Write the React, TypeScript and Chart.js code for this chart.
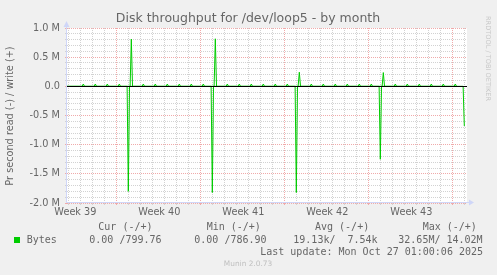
import React, { useEffect, useRef } from 'react';
import { Chart, registerables } from 'chart.js';

Chart.register(...registerables);

// ---- texts ----
const chartTitle = 'Disk throughput for /dev/loop5 - by month';
const yAxisTitle = 'Pr second read (-) / write (+)';
const sideWatermark = 'RRDTOOL / TOBI OETIKER';
const footerWatermark = 'Munin 2.0.73';

// ---- x axis (days from left edge of graph) ----
const xMaxDays = 33.333;
const weekLabels = ['Week 39', 'Week 40', 'Week 41', 'Week 42', 'Week 43'];
const weekLabelDays = [0.7, 7.7, 14.7, 21.7, 28.7];
const weekStartDays = [4.12, 11.12, 18.12, 25.12, 32.12];
const dayLineDays = [
  0.12, 1.12, 2.12, 3.12, 4.12, 5.12, 6.12, 7.12, 8.12, 9.12, 10.12, 11.12,
  12.12, 13.12, 14.12, 15.12, 16.12, 17.12, 18.12, 19.12, 20.12, 21.12, 22.12,
  23.12, 24.12, 25.12, 26.12, 27.12, 28.12, 29.12, 30.12, 31.12, 32.12, 33.12,
];

// ---- y axis (bytes per second) ----
const yMin = -2000000;
const yMax = 1000000;
const yMinorStep = 100000;
const yLabelValues = [1000000, 500000, 0, -500000, -1000000, -1500000, -2000000];
const yLabelTexts = ['1.0 M', '0.5 M', '0.0', '-0.5 M', '-1.0 M', '-1.5 M', '-2.0 M'];

// ---- series: write (+) ----
const writeDays = [
  1.36, 2.36, 3.36, 4.36, 5.36, 6.36, 7.36, 8.36, 9.36, 10.36, 11.36, 12.36,
  13.36, 14.36, 15.36, 16.36, 17.36, 18.36, 19.36, 20.36, 21.36, 22.36, 23.36,
  24.36, 25.36, 26.36, 27.36, 28.36, 29.36, 30.36, 31.36, 32.36,
];
const writeBytes = [
  40000, 40000, 40000, 40000, 810000, 40000, 40000, 40000, 40000, 40000, 40000,
  815000, 40000, 40000, 40000, 40000, 40000, 40000, 242000, 40000, 40000, 40000,
  40000, 40000, 40000, 236000, 40000, 40000, 40000, 40000, 40000, 40000,
];

// ---- series: read (-) ----
const readDays = [5.11, 12.11, 19.11, 26.11, 33.11];
const readBytes = [-1800000, -1820000, -1820000, -1250000, -680000];

// ---- legend ----
const legendHeaders = ['Cur (-/+)', 'Min (-/+)', 'Avg (-/+)', 'Max (-/+)'];
const legendSeriesName = 'Bytes';
const legendValues = ['0.00 /799.76', '0.00 /786.90', '19.13k/  7.54k', '32.65M/ 14.02M'];
const lastUpdate = 'Last update: Mon Oct 27 01:00:06 2025';

// ---- styles ----
const SERIES_COLOR = '#00CC00';
const GRID_COLOR = '#d2d2d2';
const MGRID_COLOR = '#f0aaaa';
const AXIS_COLOR = '#CFD6F8';
const FONT_COLOR = '#666666';
const SPIKE_HALF = 0.1;

const near = (a: number, b: number) => Math.abs(a - b) < 1e-6;

function buildSeries(days: number[], vals: number[], endOnLast: boolean) {
  const pts: { x: number; y: number }[] = [{ x: 0, y: 0 }];
  days.forEach((d, i) => {
    pts.push({ x: d - SPIKE_HALF, y: 0 }, { x: d, y: vals[i] }, { x: d + SPIKE_HALF, y: 0 });
  });
  if (endOnLast) pts.pop();
  return pts;
}

const decorPlugin = {
  id: 'decor',
  beforeDraw(chart: any) {
    const { ctx, chartArea: a } = chart;
    ctx.save();
    ctx.fillStyle = '#F0F0F0';
    ctx.fillRect(0, 0, chart.width, chart.height);
    ctx.fillStyle = '#FFFFFF';
    ctx.fillRect(a.left, a.top, a.right - a.left, a.bottom - a.top);
    ctx.restore();
  },
  afterDatasetsDraw(chart: any) {
    const { ctx, chartArea: a } = chart;
    const ys = chart.scales.y;
    ctx.save();
    // zero rule
    const y0 = Math.round(ys.getPixelForValue(0)) + 0.5;
    ctx.strokeStyle = '#000000';
    ctx.lineWidth = 1;
    ctx.beginPath();
    ctx.moveTo(a.left, y0);
    ctx.lineTo(a.right, y0);
    ctx.stroke();
    // axes
    const ax = Math.round(a.left) - 0.5;
    const ay = Math.round(a.bottom) - 0.5;
    ctx.strokeStyle = AXIS_COLOR;
    ctx.beginPath();
    ctx.moveTo(ax, ay);
    ctx.lineTo(ax, a.top - 5);
    ctx.moveTo(ax, ay);
    ctx.lineTo(a.right + 3, ay);
    ctx.stroke();
    ctx.fillStyle = AXIS_COLOR;
    ctx.beginPath();
    ctx.moveTo(ax - 3, a.top - 1);
    ctx.lineTo(ax + 3, a.top - 1);
    ctx.lineTo(ax, a.top - 7);
    ctx.closePath();
    ctx.fill();
    ctx.beginPath();
    ctx.moveTo(a.right + 2, ay - 3);
    ctx.lineTo(a.right + 2, ay + 3);
    ctx.lineTo(a.right + 7, ay);
    ctx.closePath();
    ctx.fill();
    ctx.restore();
  },
  afterDraw(chart: any) {
    const { ctx } = chart;
    ctx.save();
    ctx.fillStyle = FONT_COLOR;
    ctx.textBaseline = 'middle';
    // title
    ctx.font = '12.5px "DejaVu Sans"';
    ctx.textAlign = 'center';
    ctx.fillText(chartTitle, 248, 19);
    // y axis title
    ctx.save();
    ctx.translate(10, 116);
    ctx.rotate(-Math.PI / 2);
    ctx.font = '9.72px "DejaVu Sans"';
    ctx.fillText(yAxisTitle, 0, 0);
    ctx.restore();
    // side watermark
    ctx.save();
    ctx.translate(487.5, 58.5);
    ctx.rotate(Math.PI / 2);
    ctx.fillStyle = '#c8c8c8';
    ctx.font = '6.6px "DejaVu Sans"';
    ctx.fillText(sideWatermark, 0, 0);
    ctx.restore();
    // legend
    ctx.font = '10px "DejaVu Sans Mono"';
    ctx.textAlign = 'left';
    const headerX = [98.3, 206.7, 315, 422.7];
    legendHeaders.forEach((t, i) => ctx.fillText(t, headerX[i], 227.5));
    ctx.fillStyle = SERIES_COLOR;
    ctx.fillRect(14, 237, 6, 6);
    ctx.fillStyle = FONT_COLOR;
    ctx.fillText(legendSeriesName, 26.7, 240);
    const valueX = [89.3, 194.3, 293.3, 398.3];
    legendValues.forEach((t, i) => ctx.fillText(t, valueX[i], 240));
    ctx.textAlign = 'right';
    ctx.fillText(lastUpdate, 483, 252);
    // footer watermark
    ctx.textAlign = 'center';
    ctx.fillStyle = '#c0c0c0';
    ctx.font = '7.4px "DejaVu Sans"';
    ctx.fillText(footerWatermark, 248, 264);
    ctx.restore();
  },
};

export default function App() {
  const ref = useRef<HTMLCanvasElement>(null);
  useEffect(() => {
    document.body.style.margin = '0';
    document.body.style.background = '#F0F0F0';
    const canvas = ref.current as HTMLCanvasElement;
    const yGrid: number[] = [];
    for (let v = yMin; v <= yMax; v += yMinorStep) yGrid.push(v);
    const isMajorY = (v: number) => yLabelValues.some((m) => near(m, v));
    const isWeekStart = (v: number) => weekStartDays.some((m) => near(m, v));
    const isLabelDay = (v: number) => weekLabelDays.some((m) => near(m, v));

    const chart = new Chart(canvas, {
      type: 'line',
      data: {
        datasets: [
          {
            label: 'write',
            data: buildSeries(writeDays, writeBytes, false),
            borderColor: SERIES_COLOR,
            borderWidth: 1,
            pointRadius: 0,
            tension: 0,
            fill: false,
          },
          {
            label: 'read',
            data: buildSeries(readDays, readBytes, true),
            borderColor: SERIES_COLOR,
            borderWidth: 1,
            pointRadius: 0,
            tension: 0,
            fill: false,
          },
        ],
      },
      options: {
        animation: false,
        responsive: false,
        devicePixelRatio: 1,
        parsing: false,
        layout: { padding: { top: 28, right: 30, left: 0, bottom: 0 } },
        plugins: {
          legend: { display: false },
          title: { display: false },
          tooltip: { enabled: false },
        },
        scales: {
          x: {
            type: 'linear',
            min: 0,
            max: xMaxDays,
            afterBuildTicks: (scale: any) => {
              const vals = [...dayLineDays, ...weekLabelDays].sort((p, q) => p - q);
              scale.ticks = vals.map((value) => ({ value }));
            },
            afterFit: (scale: any) => {
              scale.height = 72;
            },
            grid: {
              color: (c: any) =>
                isLabelDay(c.tick.value) ? 'rgba(0,0,0,0)' : isWeekStart(c.tick.value) ? MGRID_COLOR : GRID_COLOR,
              tickColor: (c: any) =>
                isLabelDay(c.tick.value) ? 'rgba(0,0,0,0)' : isWeekStart(c.tick.value) ? MGRID_COLOR : GRID_COLOR,
              lineWidth: 1,
              drawTicks: true,
              tickLength: 2,
            },
            border: { display: false, dash: [1, 1] },
            ticks: {
              autoSkip: false,
              maxRotation: 0,
              minRotation: 0,
              padding: 2,
              color: FONT_COLOR,
              font: { family: 'DejaVu Sans', size: 9.72 },
              callback: (v: any) => {
                const i = weekLabelDays.findIndex((d) => near(d, Number(v)));
                return i >= 0 ? weekLabels[i] : '';
              },
            },
          },
          y: {
            type: 'linear',
            min: yMin,
            max: yMax,
            afterBuildTicks: (scale: any) => {
              scale.ticks = yGrid.map((value) => ({ value }));
            },
            afterFit: (scale: any) => {
              scale.width = 67;
            },
            grid: {
              color: (c: any) => (isMajorY(c.tick.value) ? MGRID_COLOR : GRID_COLOR),
              tickColor: (c: any) => (isMajorY(c.tick.value) ? MGRID_COLOR : GRID_COLOR),
              lineWidth: 1,
              drawTicks: true,
              tickLength: 2,
            },
            border: { display: false, dash: [1, 1] },
            ticks: {
              autoSkip: false,
              padding: 5,
              color: FONT_COLOR,
              font: { family: 'DejaVu Sans', size: 9.72 },
              callback: (v: any) => {
                const i = yLabelValues.findIndex((m) => near(m, Number(v)));
                return i >= 0 ? yLabelTexts[i] : '';
              },
            },
          },
        },
      },
      plugins: [decorPlugin],
    } as any);
    return () => chart.destroy();
  }, []);
  return (
    <div style={{ width: 497, height: 275, background: '#F0F0F0' }}>
      <canvas ref={ref} width={497} height={275} style={{ display: 'block', width: 497, height: 275 }} />
    </div>
  );
}
